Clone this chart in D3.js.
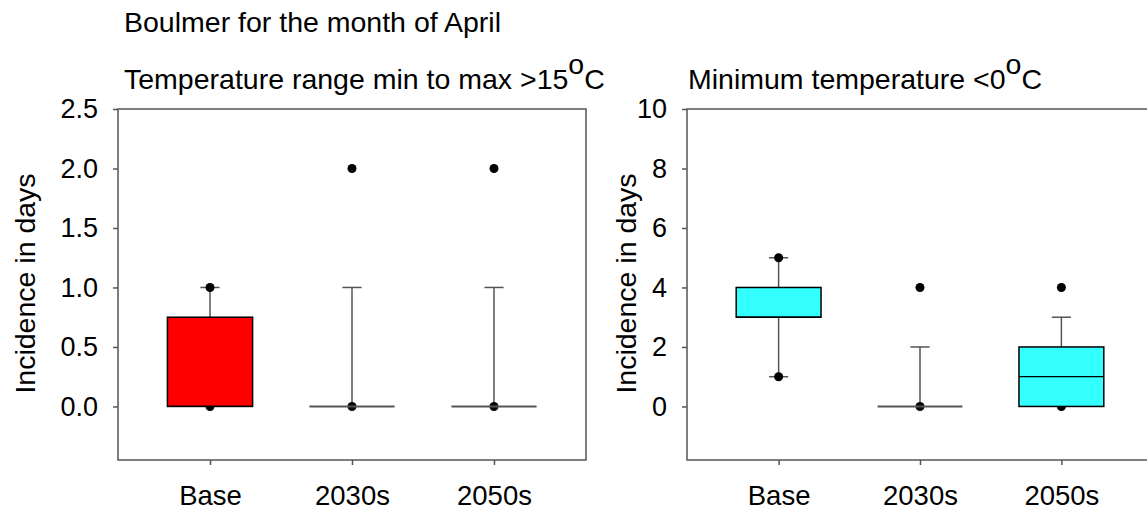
<!DOCTYPE html>
<html>
<head>
<meta charset="utf-8">
<script src="https://cdn.jsdelivr.net/npm/d3@7"></script>
<style>
    body { margin: 0; background: #fff; }
    svg text { font-family: "Liberation Sans", Arial, sans-serif; fill: #000; }
</style>
</head>
<body>
<div id="chart"></div>
<script>
// Categories shared by both panels
const categories = ["Base", "2030s", "2050s"];

// Panel 1: temperature range min to max > 15 C
const rangeQ1 = [0, 0, 0];
const rangeMedian = [0, 0, 0];
const rangeQ3 = [0.75, 0, 0];
const rangeWhiskerLow = [0, 0, 0];
const rangeWhiskerHigh = [1, 1, 1];
const rangePoints = [[0, 1], [0, 2], [0, 2]];
const rangeTicks = [0, 0.5, 1.0, 1.5, 2.0, 2.5];

// Panel 2: minimum temperature < 0 C
const frostQ1 = [3, 0, 0];
const frostMedian = [3, 0, 1];
const frostQ3 = [4, 0, 2];
const frostWhiskerLow = [1, 0, 0];
const frostWhiskerHigh = [5, 2, 3];
const frostPoints = [[1, 5], [0, 4], [0, 4]];
const frostTicks = [0, 2, 4, 6, 8, 10];

const width = 1147, height = 510;
const axisColor = "#555";

const svg = d3.select("#chart").append("svg")
    .attr("width", width)
    .attr("height", height);

// Main title
svg.append("text")
    .attr("x", 124)
    .attr("y", 32)
    .style("font-size", "28.5px")
    .text("Boulmer for the month of April");

function drawPanel(opts) {
    const { left, top, w, h, domain, ticks, fmt, title, unit, fill, titleX, yTitleX,
            q1, med, q3, wLo, wHi, points } = opts;

    const x = d3.scalePoint()
        .domain(categories)
        .range([left, left + w])
        .padding(0.648);

    const y = d3.scaleLinear()
        .domain(domain)
        .range([top + h, top]);

    const boxW = x.step() * 0.6;
    const capW = x.step() * 0.135;

    // Panel title with raised degree "o"
    const t = svg.append("text")
        .attr("x", titleX)
        .attr("y", 89)
        .style("font-size", "28.5px");
    t.append("tspan").text(title);
    t.append("tspan").attr("dy", -15).text("o");
    t.append("tspan").attr("dy", 15).text(unit);

    // Frame
    svg.append("rect")
        .attr("x", left)
        .attr("y", top)
        .attr("width", w)
        .attr("height", h)
        .attr("fill", "none")
        .attr("stroke", axisColor)
        .attr("stroke-width", 1.5);

    // Y axis
    const yAxis = svg.append("g")
        .attr("transform", `translate(${left},0)`)
        .call(d3.axisLeft(y).tickValues(ticks).tickFormat(d3.format(fmt))
            .tickSizeOuter(0).tickSizeInner(5).tickPadding(15));
    yAxis.select(".domain").remove();
    yAxis.selectAll("line").attr("stroke", axisColor).attr("stroke-width", 1.5);
    yAxis.selectAll("text").style("font-size", "27px").attr("fill", "#000");

    // X axis
    const xAxis = svg.append("g")
        .attr("transform", `translate(0,${top + h})`)
        .call(d3.axisBottom(x).tickSizeOuter(0).tickSizeInner(5).tickPadding(20));
    xAxis.select(".domain").remove();
    xAxis.selectAll("line").attr("stroke", axisColor).attr("stroke-width", 1.5);
    xAxis.selectAll("text").style("font-size", "27.5px").attr("fill", "#000");

    // Y axis title
    svg.append("text")
        .attr("transform", `translate(${yTitleX},${top + h / 2 - 1}) rotate(-90)`)
        .attr("text-anchor", "middle")
        .attr("dy", "0.35em")
        .style("font-size", "28.5px")
        .text("Incidence in days");

    const boxes = categories.map((c, i) => ({
        cat: c, q1: q1[i], med: med[i], q3: q3[i],
        lo: wLo[i], hi: wHi[i], pts: points[i]
    }));

    const g = svg.append("g");

    // Whiskers
    g.selectAll(".whisker")
        .data(boxes)
        .enter().append("line")
        .attr("x1", d => x(d.cat))
        .attr("x2", d => x(d.cat))
        .attr("y1", d => y(d.lo))
        .attr("y2", d => y(d.hi))
        .attr("stroke", axisColor)
        .attr("stroke-width", 1.5);

    // Whisker caps
    const caps = [];
    boxes.forEach(d => {
        if (d.hi > d.q3) caps.push({ cat: d.cat, v: d.hi });
        if (d.lo < d.q1) caps.push({ cat: d.cat, v: d.lo });
    });
    g.selectAll(".cap")
        .data(caps)
        .enter().append("line")
        .attr("x1", d => x(d.cat) - capW / 2)
        .attr("x2", d => x(d.cat) + capW / 2)
        .attr("y1", d => y(d.v))
        .attr("y2", d => y(d.v))
        .attr("stroke", axisColor)
        .attr("stroke-width", 1.5);

    // Outlying points
    const pts = [];
    boxes.forEach(d => d.pts.forEach(v => pts.push({ cat: d.cat, v })));
    g.selectAll(".pt")
        .data(pts)
        .enter().append("circle")
        .attr("cx", d => x(d.cat))
        .attr("cy", d => y(d.v))
        .attr("r", 4.5)
        .attr("fill", "#000");

    // Boxes with a spread
    g.selectAll(".box")
        .data(boxes.filter(d => d.q3 > d.q1))
        .enter().append("rect")
        .attr("x", d => x(d.cat) - boxW / 2)
        .attr("width", boxW)
        .attr("y", d => y(d.q3))
        .attr("height", d => y(d.q1) - y(d.q3))
        .attr("fill", fill)
        .attr("stroke", "#000")
        .attr("stroke-width", 1.5);

    // Collapsed boxes (all quartiles equal) show as a flat line
    g.selectAll(".flat")
        .data(boxes.filter(d => d.q3 === d.q1))
        .enter().append("line")
        .attr("x1", d => x(d.cat) - boxW / 2)
        .attr("x2", d => x(d.cat) + boxW / 2)
        .attr("y1", d => y(d.q1))
        .attr("y2", d => y(d.q1))
        .attr("stroke", axisColor)
        .attr("stroke-width", 2);

    // Medians
    g.selectAll(".median")
        .data(boxes.filter(d => d.q3 > d.q1))
        .enter().append("line")
        .attr("x1", d => x(d.cat) - boxW / 2)
        .attr("x2", d => x(d.cat) + boxW / 2)
        .attr("y1", d => y(d.med))
        .attr("y2", d => y(d.med))
        .attr("stroke", "#000")
        .attr("stroke-width", 1.2);
}

drawPanel({
    left: 118, top: 109, w: 468, h: 351,
    domain: [-0.45, 2.5], ticks: rangeTicks, fmt: ".1f",
    title: "Temperature range min to max >15", unit: "C", fill: "#ff0000",
    titleX: 124, yTitleX: 25,
    q1: rangeQ1, med: rangeMedian, q3: rangeQ3,
    wLo: rangeWhiskerLow, wHi: rangeWhiskerHigh, points: rangePoints
});

drawPanel({
    left: 687, top: 109, w: 466, h: 351,
    domain: [-1.8, 10], ticks: frostTicks, fmt: "d",
    title: "Minimum temperature <0", unit: "C", fill: "#33ffff",
    titleX: 688, yTitleX: 626,
    q1: frostQ1, med: frostMedian, q3: frostQ3,
    wLo: frostWhiskerLow, wHi: frostWhiskerHigh, points: frostPoints
});
</script>
</body>
</html>
